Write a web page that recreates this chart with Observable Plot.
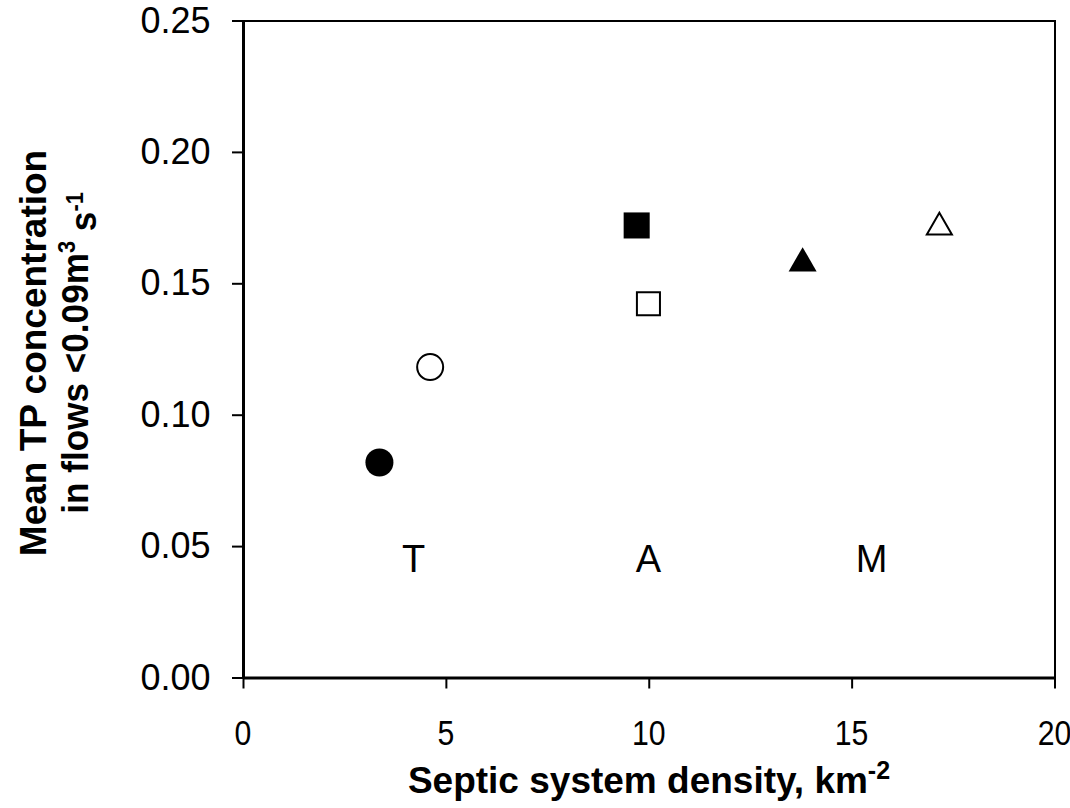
<!DOCTYPE html>
<html>
<head>
<meta charset="utf-8">
<script src="https://cdn.jsdelivr.net/npm/d3@7"></script>
<script src="https://cdn.jsdelivr.net/npm/@observablehq/plot@0.6"></script>
<style>
  html, body { margin: 0; padding: 0; background: #fff; }
  #chart svg { display: block; }
</style>
</head>
<body>
<div id="chart"></div>
<script>
// ---- data ----
const densities = [3.35, 4.60, 9.69, 9.98, 13.78, 17.15];
const tpMeans   = [0.0820, 0.1183, 0.1722, 0.1424, 0.1578, 0.1715];
const shapes    = ["circle", "circle", "square", "square", "triangle", "triangle"];
const fills     = ["black", "white", "black", "white", "black", "white"];
const groupLabels = ["T", "A", "M"];
const groupLabelX = [4.19, 9.98, 15.48];
const groupLabelY = [0.045, 0.045, 0.045];
const xTicks = [0, 5, 10, 15, 20];
const yTicks = [0, 0.05, 0.10, 0.15, 0.20, 0.25];

const points = densities.map((x, i) => ({x, y: tpMeans[i], shape: shapes[i], fill: fills[i]}));
const labelRows = groupLabels.map((t, i) => ({t, x: groupLabelX[i], y: groupLabelY[i]}));

// marker radii (style)
const radius = {
  circle:   {black: 14,   white: 13},
  square:   {black: 14.7, white: 13},
  triangle: {black: 10.4, white: 9.3}
};

const font = "'Liberation Sans', Arial, Helvetica, sans-serif";

const dotMarks = [];
for (const shape of ["circle", "square", "triangle"]) {
  for (const f of ["black", "white"]) {
    dotMarks.push(Plot.dot(points.filter(d => d.shape === shape && d.fill === f), {
      x: "x", y: "y", symbol: shape, r: radius[shape][f],
      fill: f, stroke: "black", strokeWidth: f === "white" ? 2 : 0
    }));
  }
}

const svg = Plot.plot({
  width: 1070,
  height: 808,
  marginLeft: 243,
  marginRight: 15.5,
  marginTop: 20.5,
  marginBottom: 130.5,
  style: {fontFamily: font, color: "black", background: "white"},
  x: {domain: [0, 20]},
  y: {domain: [0, 0.25]},
  marks: [
    Plot.frame({stroke: "black", strokeWidth: 2}),
    Plot.ruleX([0], {stroke: "black", strokeWidth: 3}),
    Plot.ruleY([0], {stroke: "black", strokeWidth: 3}),
    Plot.axisX({ticks: xTicks, tickSize: 11, strokeWidth: 2, tickFormat: () => "", label: null}),
    Plot.axisY({ticks: yTicks, tickSize: 11, tickPadding: 22, fontSize: 36,
      strokeWidth: 2, tickFormat: d3.format(".2f"), label: null}),
    ...dotMarks,
    Plot.text(labelRows, {x: "x", y: "y", text: "t", fontSize: 38, fill: "black"})
  ]
});

document.getElementById("chart").appendChild(svg);

const s = d3.select(svg);
const xScale = svg.scale("x");

// x tick labels: slightly condensed, positioned with Plot's x scale
const xl = s.append("g").attr("font-family", font).attr("font-size", 36)
  .attr("fill", "black").attr("text-anchor", "middle");
for (const v of xTicks) {
  xl.append("text")
    .attr("transform", `translate(${xScale.apply(v)},745) scale(0.84,1)`)
    .text(String(v));
}

// axis titles with superscripts
const xt = s.append("text")
  .attr("x", 649).attr("y", 793)
  .attr("text-anchor", "middle")
  .attr("font-family", font).attr("font-weight", "bold").attr("font-size", 37)
  .attr("fill", "black");
xt.append("tspan").text("Septic system density, km");
xt.append("tspan").attr("dy", "-0.55em").attr("font-size", 25).text("-2");

const yt = s.append("g").attr("transform", "translate(0,353) rotate(-90)")
  .attr("font-family", font).attr("font-weight", "bold").attr("font-size", 37)
  .attr("fill", "black").attr("text-anchor", "middle");
yt.append("text").attr("x", 0).attr("y", 46).text("Mean TP concentration");
const l2 = yt.append("g").attr("transform", "scale(0.95,1)")
  .append("text").attr("x", 0).attr("y", 88);
l2.append("tspan").text("in flows <0.09m");
l2.append("tspan").attr("dy", "-0.55em").attr("font-size", 23).text("3");
l2.append("tspan").attr("dy", "0.55em").text(" s");
l2.append("tspan").attr("dy", "-0.55em").attr("font-size", 23).text("-1");
</script>
</body>
</html>
